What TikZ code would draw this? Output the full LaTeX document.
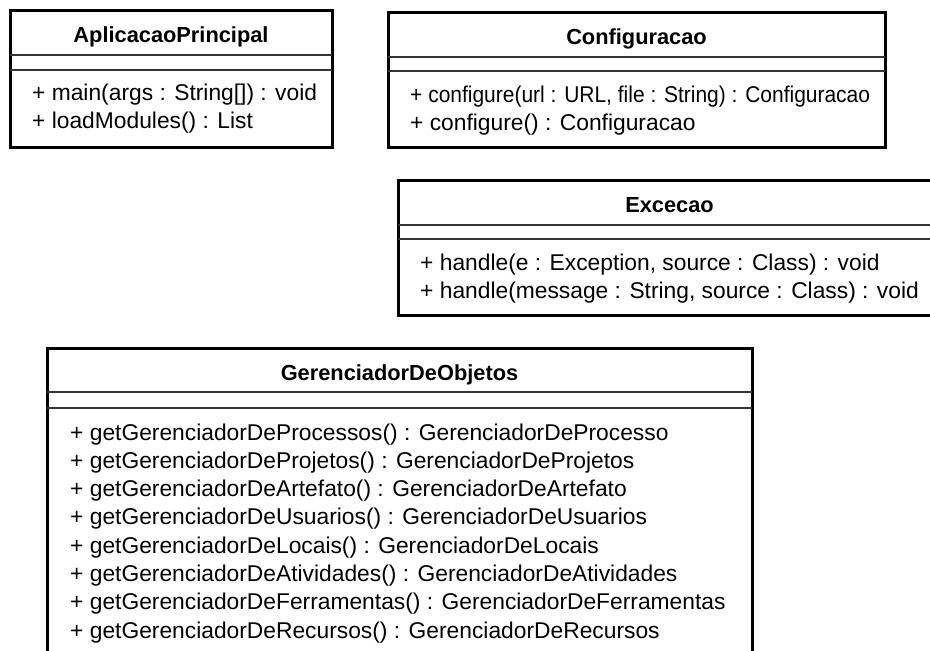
\documentclass[tikz,border=0pt]{standalone}
\usepackage{fontspec}
\setmainfont{Liberation Sans}
\begin{document}
\begin{tikzpicture}[x=1pt,y=-1pt,
  classbox/.style={draw=black,line width=3pt},
  sepline/.style={draw=black!80,line width=1.8pt},
  title/.style={font=\fontsize{21.8}{26}\selectfont\bfseries,inner sep=0pt,anchor=base},
  member/.style={font=\fontsize{22.8}{27}\selectfont,inner sep=0pt,anchor=base west},
  narrow/.style={font=\fontsize{22.8}{27}\selectfont\addfontfeatures{FakeStretch=0.92}}]
\useasboundingbox[fill=white] (0,0) rectangle (930,651);
\clip (0,0) rectangle (930,651);

% AplicacaoPrincipal
\draw[classbox] (10,10) rectangle (332,147);
\draw[sepline] (10,55) -- (332,55) (10,70) -- (332,70);
\node[title] (ap) at (171,42.5) {AplicacaoPrincipal};
\node[member] (ap1) at (32,100) {+ main(args : String[]) : void};
\node[member] (ap2) at (32,128) {+ loadModules() : List};

% Configuracao
\draw[classbox] (388,12) rectangle (885,147);
\draw[sepline] (388,57) -- (885,57) (388,71) -- (885,71);
\node[title] (cf) at (636.5,44) {Configuracao};
\node[member,narrow] (cf1) at (410,102) {+ configure(url : URL, file : String) : Configuracao};
\node[member] (cf2) at (410,130) {+ configure() : Configuracao};

% Excecao
\draw[classbox] (398,180) rectangle (941,315);
\draw[sepline] (398,225) -- (941,225) (398,239) -- (941,239);
\node[title] (ex) at (669.5,212.5) {Excecao};
\node[member] (ex1) at (420,270) {+ handle(e : Exception, source : Class) : void};
\node[member] (ex2) at (420,298) {+ handle(message : String, source : Class) : void};

% GerenciadorDeObjetos
\draw[classbox] (47,348) rectangle (752,680);
\draw[sepline] (47,392) -- (752,392) (47,408) -- (752,408);
\node[title] (go) at (399.5,380.5) {GerenciadorDeObjetos};
\foreach \name [count=\i from 0] in {Processos/Processo,Projetos/Projetos,Artefato/Artefato,
    Usuarios/Usuarios,Locais/Locais,Atividades/Atividades,
    Ferramentas/Ferramentas,Recursos/Recursos}{
  \pgfmathsetmacro{\yb}{440+28.3*\i}
  \def\splitname##1/##2\relax{%
    \node[member] (go\i) at (70,\yb) {+ getGerenciadorDe##1() : GerenciadorDe##2};}
  \expandafter\splitname\name\relax
}
\end{tikzpicture}
\end{document}
